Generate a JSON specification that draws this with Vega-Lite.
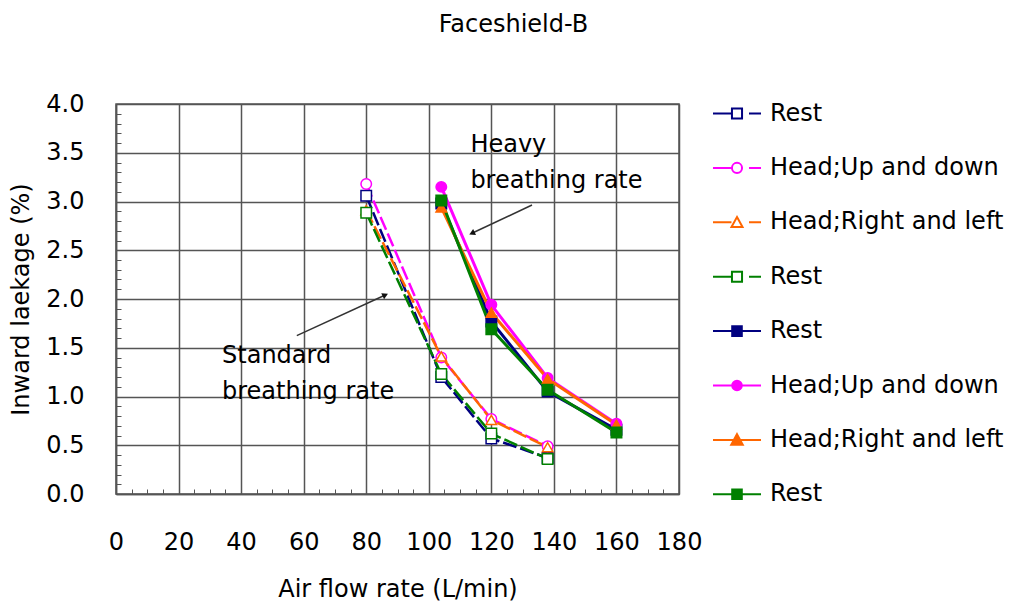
{
  "$schema": "https://vega.github.io/schema/vega-lite/v6.json",
  "width": 563,
  "height": 390,
  "autosize": {"type": "none"},
  "padding": {"left": 116, "top": 104, "right": 335, "bottom": 109},
  "background": "white",
  "title": {"text": "Faceshield-B", "font": "DejaVu Sans", "fontSize": 24, "fontWeight": "normal", "color": "#000", "anchor": "middle", "frame": "group", "dx": 116, "offset": 52},
  "config": {
    "view": {"stroke": "#555", "strokeWidth": 1.5},
    "font": "DejaVu Sans",
    "axis": {
      "labelFont": "DejaVu Sans", "labelFontSize": 24, "labelColor": "#000",
      "titleFont": "DejaVu Sans", "titleFontSize": 24, "titleFontWeight": "normal", "titleColor": "#000",
      "gridColor": "#555", "gridWidth": 1.5, "tickColor": "#555", "tickWidth": 1, "tickSize": -5,
      "domainColor": "#555", "domainWidth": 1.5, "labelFlush": false, "labelOverlap": false
    }
  },
  "datasets": {
    "series": [
      {"series": "s1", "flow": 80, "leak": 3.06},
      {"series": "s1", "flow": 104, "leak": 1.2},
      {"series": "s1", "flow": 120, "leak": 0.57},
      {"series": "s1", "flow": 138, "leak": 0.37},
      {"series": "s2", "flow": 80, "leak": 3.18},
      {"series": "s2", "flow": 104, "leak": 1.4},
      {"series": "s2", "flow": 120, "leak": 0.77},
      {"series": "s2", "flow": 138, "leak": 0.49},
      {"series": "s3", "flow": 80, "leak": 2.91},
      {"series": "s3", "flow": 104, "leak": 1.41},
      {"series": "s3", "flow": 120, "leak": 0.76},
      {"series": "s3", "flow": 138, "leak": 0.48},
      {"series": "s4", "flow": 80, "leak": 2.885},
      {"series": "s4", "flow": 104, "leak": 1.23},
      {"series": "s4", "flow": 120, "leak": 0.62},
      {"series": "s4", "flow": 138, "leak": 0.36},
      {"series": "h1", "flow": 104, "leak": 2.98},
      {"series": "h1", "flow": 120, "leak": 1.77},
      {"series": "h1", "flow": 138, "leak": 1.05},
      {"series": "h1", "flow": 160, "leak": 0.66},
      {"series": "h2", "flow": 104, "leak": 3.15},
      {"series": "h2", "flow": 120, "leak": 1.94},
      {"series": "h2", "flow": 138, "leak": 1.19},
      {"series": "h2", "flow": 160, "leak": 0.72},
      {"series": "h3", "flow": 104, "leak": 2.94},
      {"series": "h3", "flow": 120, "leak": 1.86},
      {"series": "h3", "flow": 138, "leak": 1.18},
      {"series": "h3", "flow": 160, "leak": 0.71},
      {"series": "h4", "flow": 104, "leak": 3.01},
      {"series": "h4", "flow": 120, "leak": 1.69},
      {"series": "h4", "flow": 138, "leak": 1.07},
      {"series": "h4", "flow": 160, "leak": 0.63}
    ],
    "notes": [
      {"flow": 33.9, "leak": 1.344, "text": "Standard"},
      {"flow": 33.9, "leak": 0.974, "text": "breathing rate"},
      {"flow": 113.3, "leak": 3.508, "text": "Heavy"},
      {"flow": 113.3, "leak": 3.138, "text": "breathing rate"}
    ],
    "arrows": [
      {"which": "std", "part": "tail", "flow": 57.8, "leak": 1.624},
      {"which": "std", "part": "head", "flow": 86.1, "leak": 2.041},
      {"which": "heavy", "part": "tail", "flow": 133.0, "leak": 2.964},
      {"which": "heavy", "part": "head", "flow": 113.8, "leak": 2.674}
    ]
  },
  "encoding": {
    "x": {
      "field": "flow", "type": "quantitative",
      "scale": {"domain": [0, 180], "nice": false, "zero": false},
      "axis": {
        "values": [0,5,10,15,20,25,30,35,40,45,50,55,60,65,70,75,80,85,90,95,100,105,110,115,120,125,130,135,140,145,150,155,160,165,170,175,180],
        "labelExpr": "datum.value % 20 == 0 ? datum.label : ''",
        "gridOpacity": {"condition": {"test": "datum.value % 20 == 0", "value": 1}, "value": 0},
        "labelPadding": 41, "title": "Air flow rate (L/min)", "titlePadding": 23
      }
    },
    "y": {
      "field": "leak", "type": "quantitative",
      "scale": {"domain": [0, 4], "nice": false},
      "axis": {
        "values": [0,0.1,0.2,0.3,0.4,0.5,0.6,0.7,0.8,0.9,1,1.1,1.2,1.3,1.4,1.5,1.6,1.7,1.8,1.9,2,2.1,2.2,2.3,2.4,2.5,2.6,2.7,2.8,2.9,3,3.1,3.2,3.3,3.4,3.5,3.6,3.7,3.8,3.9,4],
        "labelExpr": "abs(datum.value*2 - round(datum.value*2)) < 0.01 ? format(datum.value, '.1f') : ''",
        "gridOpacity": {"condition": {"test": "abs(datum.value*2 - round(datum.value*2)) < 0.01", "value": 1}, "value": 0},
        "labelPadding": 37, "title": "Inward laekage (%)", "titlePadding": 12
      }
    }
  },
  "layer": [
    {
      "data": {"name": "series"},
      "transform": [{"filter": "indexof(['s1','s2','s3','s4'], datum.series) >= 0"}],
      "mark": {"type": "line", "strokeWidth": 2.5, "strokeDash": [14, 4]},
      "encoding": {
        "color": {
          "field": "series", "type": "nominal",
          "scale": {"domain": ["s1","s2","s3","s4","h1","h2","h3","h4"], "range": ["#000080","#FF00FF","#FF6600","#008000","#000080","#FF00FF","#FF6600","#008000"]}
        }
      }
    },
    {
      "data": {"name": "series"},
      "transform": [{"filter": "indexof(['h1','h2','h3','h4'], datum.series) >= 0"}],
      "mark": {"type": "line", "strokeWidth": 3},
      "encoding": {
        "color": {"field": "series", "type": "nominal"}
      }
    },
    {
      "data": {"name": "series"},
      "mark": {"type": "point", "filled": false, "size": 110, "strokeWidth": 1.5, "opacity": 1},
      "encoding": {
        "color": {"field": "series", "type": "nominal"},
        "fill": {
          "field": "series", "type": "nominal",
          "scale": {"domain": ["s1","s2","s3","s4","h1","h2","h3","h4"], "range": ["white","white","white","white","#000080","#FF00FF","#FF6600","#008000"]}
        },
        "shape": {
          "condition": [
            {"test": "datum.series == 's2' || datum.series == 'h2'", "value": "circle"},
            {"test": "datum.series == 's3' || datum.series == 'h3'", "value": "triangle-up"}
          ],
          "value": "square"
        }
      }
    },
    {
      "data": {"name": "series"},
      "transform": [{"filter": "datum.flow < 0"}],
      "mark": {"type": "point", "filled": false, "opacity": 1},
      "encoding": {
        "color": {"field": "series", "type": "nominal"},
        "fill": {"field": "series", "type": "nominal"},
        "shape": {
          "field": "series", "type": "nominal",
          "scale": {
            "domain": ["s1","s2","s3","s4","h1","h2","h3","h4"],
            "range": [
              "M-1,0H-0.21M-0.21,-0.21H0.21V0.21H-0.21ZM0.5,0H1",
              "M-1,0H-0.21M0.21,0A0.21,0.21,0,1,1,-0.21,0A0.21,0.21,0,1,1,0.21,0M0.5,0H1",
              "M-1,0H-0.23M0,-0.22L0.23,0.2L-0.23,0.2ZM0.5,0H1",
              "M-1,0H-0.21M-0.21,-0.21H0.21V0.21H-0.21ZM0.5,0H1",
              "M-1,0H1M-0.2,-0.2H0.2V0.2H-0.2Z",
              "M-1,0H1M0.2,0A0.2,0.2,0,1,1,-0.2,0A0.2,0.2,0,1,1,0.2,0",
              "M-1,0H1M0,-0.24L0.24,0.2L-0.24,0.2Z",
              "M-1,0H1M-0.2,-0.2H0.2V0.2H-0.2Z"
            ]
          },
          "legend": {
            "orient": "none", "legendX": 596, "legendY": -15.5, "title": null,
            "symbolSize": 2304, "symbolStrokeWidth": 2, "symbolOpacity": 1,
            "labelFont": "DejaVu Sans", "labelFontSize": 24, "labelColor": "#000", "labelOffset": 8, "labelLimit": 0, "rowPadding": 17.4,
            "labelExpr": "{'s1':'Rest','s2':'Head;Up and down','s3':'Head;Right and left','s4':'Rest','h1':'Rest','h2':'Head;Up and down','h3':'Head;Right and left','h4':'Rest'}[datum.value]"
          }
        }
      }
    },
    {
      "data": {"name": "arrows"},
      "mark": {"type": "line", "color": "#333", "strokeWidth": 1.5},
      "encoding": {
        "detail": {"field": "which", "type": "nominal"}
      }
    },
    {
      "data": {"name": "arrows"},
      "transform": [{"filter": "datum.which == 'std' && datum.part == 'head'"}],
      "mark": {"type": "point", "shape": "triangle-right", "filled": true, "color": "#111", "size": 45, "angle": 335, "opacity": 1}
    },
    {
      "data": {"name": "arrows"},
      "transform": [{"filter": "datum.which == 'heavy' && datum.part == 'head'"}],
      "mark": {"type": "point", "shape": "triangle-right", "filled": true, "color": "#111", "size": 45, "angle": 155, "opacity": 1}
    },
    {
      "data": {"name": "notes"},
      "mark": {"type": "text", "align": "left", "baseline": "alphabetic", "font": "DejaVu Sans", "fontSize": 24, "color": "#000"},
      "encoding": {
        "text": {"field": "text"}
      }
    }
  ]
}
